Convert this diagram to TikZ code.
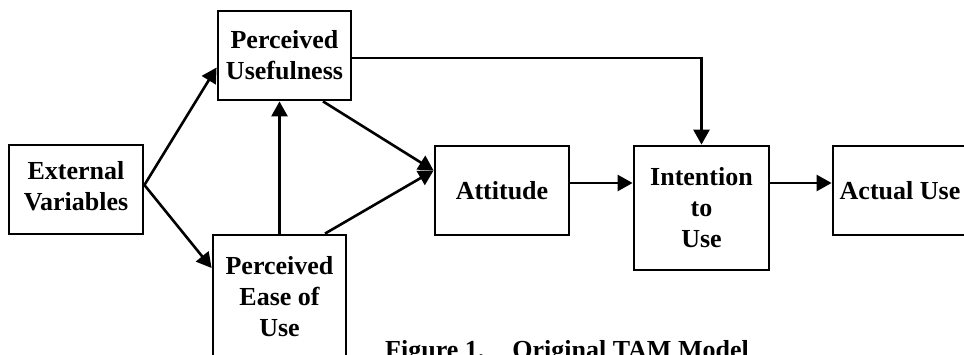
\documentclass[tikz,border=0pt]{standalone}
\usepackage{fontspec}
\setmainfont{Liberation Serif}
\usetikzlibrary{arrows.meta}
\begin{document}
\begin{tikzpicture}[x=1pt,y=-1pt,
  box/.style={draw, line width=2.8pt, inner sep=0pt, align=center,
    font=\fontsize{26}{31}\selectfont\bfseries},
  arr/.style={line width=2.6pt, -{Triangle[length=15pt,width=16pt]}},
  captxt/.style={inner sep=0pt, font=\fontsize{26}{31}\selectfont\bfseries}]
\useasboundingbox (0,0) rectangle (964,355);
\clip (0,0) rectangle (964,355);
\fill[white] (0,0) rectangle (964,355);
\node[box, minimum width=134pt, minimum height=89pt, text depth=8pt] (ev) at (76,189.5) {External\\Variables};
\node[box, minimum width=133pt, minimum height=89pt] (pu) at (284.5,55.5) {Perceived\\Usefulness};
\node[box, minimum width=133pt, minimum height=124pt] (peou) at (279.5,297) {Perceived\\Ease of\\Use};
\node[box, minimum width=134pt, minimum height=89pt] (att) at (502,190.5) {Attitude};
\node[box, minimum width=135pt, minimum height=124pt] (int) at (701.5,208) {Intention\\to\\Use};
\node[box, minimum width=134pt, minimum height=89pt] (au) at (900,190.5) {Actual Use};
\node[captxt, anchor=base west] (cap) at (385,359) {Figure 1.\hspace{28pt}Original TAM Model};
\draw[arr] ([yshift=4.5pt]ev.east) -- ([yshift=-12pt]pu.west);
\draw[arr] ([yshift=4.5pt]ev.east) -- ([yshift=29pt]peou.west);
\draw[arr] (peou.north) -- (peou.north |- pu.south);
\draw[arr] ([xshift=38.5pt]pu.south) -- ([yshift=20pt]att.west);
\draw[arr] ([xshift=45.5pt]peou.north) -- ([yshift=20pt]att.west);
\draw[arr] ([yshift=-2.5pt]pu.east) -| (int.north);
\draw[arr] ([yshift=7.5pt]att.east) -- ([yshift=25pt]int.west);
\draw[arr] ([yshift=25pt]int.east) -- ([yshift=7.5pt]au.west);
\end{tikzpicture}
\end{document}
